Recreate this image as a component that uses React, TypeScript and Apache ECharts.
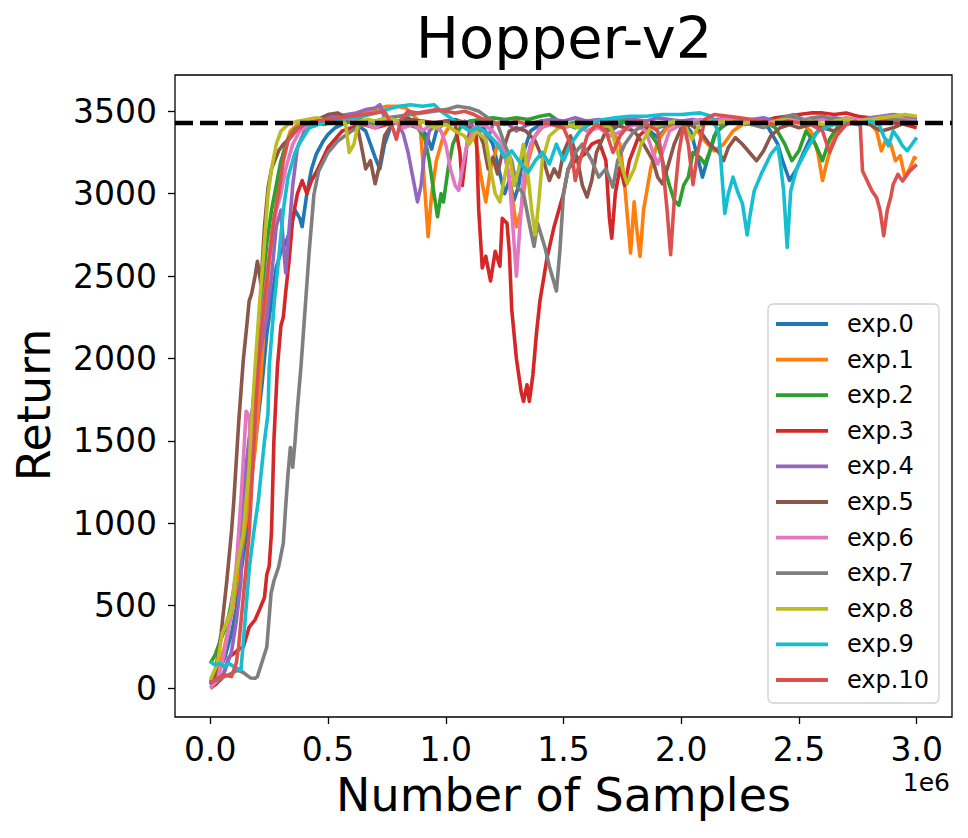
import React, { useEffect, useRef } from "react";
import * as echarts from "echarts";

const seriesNames = ["exp.0", "exp.1", "exp.2", "exp.3", "exp.4", "exp.5", "exp.6", "exp.7", "exp.8", "exp.9", "exp.10"];
const colors = ["#1f77b4", "#ff7f0e", "#2ca02c", "#d62728", "#9467bd", "#8c564b", "#e377c2", "#7f7f7f", "#bcbd22", "#17becf", "#dc5150"];
const xTicks = [0, 0.5, 1.0, 1.5, 2.0, 2.5, 3.0];
const yTicks = [0, 500, 1000, 1500, 2000, 2500, 3000, 3500];
const referenceReturn = 3432;

// x in units of 1e6 samples, y = return
const exp0 = [[0,20],[0.03,80],[0.06,180],[0.09,330],[0.11,480],[0.13,700],[0.15,900],[0.18,1340],[0.2,1600],[0.22,1850],[0.24,2150],[0.26,2350],[0.28,2550],[0.3,2650],[0.32,2700],[0.34,2780],[0.36,2900],[0.38,2850],[0.39,2800],[0.41,3000],[0.43,3150],[0.45,3240],[0.48,3320],[0.5,3360],[0.53,3400],[0.56,3420],[0.6,3440],[0.63,3410],[0.66,3380],[0.68,3300],[0.7,3220],[0.72,3150],[0.74,3300],[0.77,3420],[0.8,3440],[0.84,3460],[0.88,3420],[0.92,3350],[0.94,3270],[0.96,3380],[1.0,3440],[1.04,3450],[1.08,3430],[1.12,3440],[1.16,3400],[1.2,3300],[1.23,3120],[1.25,3000],[1.27,3080],[1.29,2960],[1.31,3050],[1.33,3250],[1.36,3380],[1.4,3420],[1.45,3440],[1.5,3430],[1.55,3400],[1.6,3440],[1.65,3420],[1.7,3380],[1.75,3430],[1.8,3450],[1.85,3400],[1.9,3340],[1.95,3420],[2.0,3440],[2.04,3380],[2.07,3220],[2.09,3100],[2.11,3200],[2.14,3350],[2.18,3420],[2.22,3440],[2.27,3420],[2.32,3440],[2.37,3400],[2.41,3300],[2.43,3200],[2.46,3080],[2.49,3150],[2.52,3250],[2.55,3340],[2.6,3400],[2.65,3430],[2.7,3440],[2.75,3420],[2.8,3440],[2.85,3450],[2.9,3440],[2.95,3460],[3.0,3450]];
const exp1 = [[0,40],[0.03,100],[0.06,250],[0.09,450],[0.12,700],[0.14,900],[0.16,1100],[0.19,1450],[0.21,1800],[0.23,2200],[0.25,2600],[0.27,2800],[0.29,3050],[0.31,3250],[0.34,3380],[0.37,3420],[0.4,3440],[0.44,3420],[0.48,3450],[0.52,3440],[0.56,3430],[0.6,3460],[0.64,3480],[0.68,3500],[0.72,3520],[0.75,3530],[0.79,3530],[0.83,3520],[0.86,3480],[0.89,3430],[0.905,3150],[0.925,2740],[0.94,3000],[0.96,3200],[0.99,3350],[1.02,3420],[1.06,3440],[1.1,3400],[1.13,3300],[1.15,3100],[1.17,2950],[1.19,3150],[1.22,3300],[1.25,3250],[1.28,3000],[1.3,2800],[1.32,2900],[1.35,3200],[1.38,3350],[1.42,3420],[1.46,3440],[1.5,3400],[1.55,3430],[1.6,3380],[1.65,3420],[1.7,3400],[1.74,3300],[1.76,3050],[1.785,2640],[1.8,2950],[1.81,2800],[1.825,2620],[1.84,2900],[1.87,3150],[1.9,3320],[1.94,3400],[1.98,3430],[2.02,3440],[2.06,3400],[2.1,3320],[2.14,3260],[2.18,3300],[2.22,3380],[2.26,3420],[2.3,3440],[2.35,3420],[2.4,3440],[2.45,3430],[2.5,3440],[2.55,3380],[2.58,3250],[2.6,3080],[2.62,3200],[2.65,3350],[2.7,3420],[2.75,3440],[2.8,3430],[2.83,3380],[2.85,3260],[2.87,3330],[2.89,3300],[2.91,3200],[2.93,3230],[2.95,3100],[2.97,3150],[2.99,3220],[3.0,3210]];
const exp2 = [[0,150],[0.02,200],[0.04,280],[0.06,350],[0.08,450],[0.1,600],[0.12,800],[0.14,1100],[0.16,1400],[0.18,1700],[0.2,2050],[0.22,2400],[0.24,2700],[0.26,2900],[0.28,3050],[0.3,3200],[0.33,3330],[0.36,3390],[0.4,3420],[0.44,3440],[0.48,3420],[0.52,3440],[0.56,3460],[0.6,3430],[0.64,3450],[0.68,3420],[0.72,3440],[0.76,3460],[0.8,3440],[0.84,3420],[0.88,3400],[0.91,3340],[0.93,3200],[0.95,3000],[0.965,2860],[0.98,3000],[0.99,2950],[1.01,3150],[1.03,3300],[1.06,3400],[1.1,3440],[1.15,3450],[1.2,3460],[1.25,3450],[1.3,3460],[1.35,3450],[1.4,3470],[1.44,3480],[1.48,3440],[1.52,3420],[1.56,3440],[1.6,3430],[1.65,3440],[1.7,3420],[1.75,3440],[1.8,3430],[1.85,3400],[1.9,3300],[1.93,3150],[1.95,3050],[1.97,2960],[1.99,2930],[2.01,3050],[2.03,3100],[2.05,3250],[2.08,3220],[2.1,3180],[2.12,3250],[2.15,3380],[2.2,3430],[2.25,3440],[2.3,3420],[2.35,3440],[2.4,3400],[2.44,3300],[2.47,3200],[2.5,3260],[2.53,3380],[2.57,3300],[2.6,3200],[2.63,3330],[2.67,3420],[2.72,3440],[2.78,3450],[2.84,3440],[2.9,3460],[2.95,3470],[3.0,3450]];
const exp3 = [[0,0],[0.02,20],[0.05,60],[0.08,190],[0.1,210],[0.12,235],[0.14,250],[0.165,370],[0.19,415],[0.21,480],[0.23,550],[0.24,690],[0.25,740],[0.26,950],[0.27,1500],[0.285,1950],[0.3,2200],[0.31,2250],[0.32,2400],[0.335,2600],[0.35,2850],[0.37,3000],[0.39,3080],[0.41,3000],[0.43,3080],[0.45,3130],[0.48,3220],[0.5,3280],[0.53,3330],[0.56,3380],[0.6,3400],[0.65,3420],[0.7,3400],[0.75,3420],[0.8,3440],[0.85,3430],[0.9,3440],[0.95,3430],[1.0,3440],[1.04,3420],[1.06,3250],[1.07,3050],[1.09,3300],[1.11,3420],[1.13,3350],[1.14,2900],[1.155,2550],[1.17,2620],[1.19,2470],[1.21,2650],[1.23,2560],[1.24,2850],[1.26,2820],[1.27,2650],[1.28,2300],[1.3,2000],[1.32,1800],[1.33,1740],[1.345,1840],[1.355,1740],[1.37,1900],[1.385,2150],[1.4,2350],[1.43,2610],[1.46,2800],[1.5,3000],[1.52,3150],[1.55,3200],[1.59,3240],[1.62,3300],[1.65,3320],[1.68,3200],[1.695,2850],[1.705,2730],[1.72,3000],[1.74,3160],[1.76,3050],[1.78,3200],[1.82,3350],[1.86,3400],[1.9,3420],[1.95,3440],[2.0,3430],[2.05,3440],[2.1,3450],[2.15,3440],[2.2,3450],[2.25,3440],[2.3,3430],[2.35,3440],[2.4,3460],[2.45,3470],[2.5,3480],[2.55,3490],[2.6,3490],[2.65,3480],[2.7,3490],[2.75,3470],[2.8,3460],[2.85,3440],[2.9,3430],[2.95,3420],[3.0,3400]];
const exp4 = [[0,20],[0.03,40],[0.06,100],[0.09,220],[0.11,400],[0.13,650],[0.14,1200],[0.16,1450],[0.18,1700],[0.2,1950],[0.22,2100],[0.24,2250],[0.26,2500],[0.28,2800],[0.3,2900],[0.31,2700],[0.32,2520],[0.33,2700],[0.35,3050],[0.37,3280],[0.4,3380],[0.43,3420],[0.46,3440],[0.5,3460],[0.54,3470],[0.58,3480],[0.62,3490],[0.66,3510],[0.7,3520],[0.72,3540],[0.74,3460],[0.77,3440],[0.8,3420],[0.82,3360],[0.84,3250],[0.86,3100],[0.88,2950],[0.895,3050],[0.91,3250],[0.93,3380],[0.96,3420],[1.0,3440],[1.04,3420],[1.08,3440],[1.12,3400],[1.16,3380],[1.18,3340],[1.2,3420],[1.25,3440],[1.3,3380],[1.35,3420],[1.4,3440],[1.45,3450],[1.5,3440],[1.55,3460],[1.6,3440],[1.65,3450],[1.7,3440],[1.75,3460],[1.8,3450],[1.85,3440],[1.9,3460],[1.95,3450],[2.0,3440],[2.05,3450],[2.1,3430],[2.15,3450],[2.2,3460],[2.25,3440],[2.3,3450],[2.35,3460],[2.4,3440],[2.45,3450],[2.5,3460],[2.55,3440],[2.6,3450],[2.65,3460],[2.7,3450],[2.75,3440],[2.8,3460],[2.85,3470],[2.9,3480],[2.95,3470],[3.0,3460]];
const exp5 = [[0,30],[0.02,80],[0.046,335],[0.07,650],[0.09,950],[0.1,1140],[0.12,1600],[0.14,1990],[0.155,2200],[0.165,2350],[0.175,2390],[0.19,2500],[0.2,2590],[0.215,2450],[0.23,2800],[0.245,3035],[0.26,3150],[0.29,3260],[0.31,3300],[0.34,3340],[0.37,3390],[0.4,3420],[0.43,3440],[0.47,3460],[0.5,3480],[0.54,3490],[0.58,3460],[0.62,3440],[0.64,3300],[0.66,3150],[0.68,3200],[0.7,3060],[0.72,3180],[0.74,3350],[0.77,3420],[0.8,3440],[0.85,3450],[0.9,3440],[0.95,3420],[1.0,3440],[1.05,3430],[1.1,3400],[1.14,3380],[1.16,3300],[1.18,3150],[1.2,3220],[1.22,3120],[1.24,3250],[1.27,3380],[1.3,3400],[1.34,3380],[1.38,3320],[1.42,3180],[1.44,3080],[1.46,3150],[1.48,3100],[1.5,3250],[1.53,3350],[1.56,3200],[1.58,3050],[1.6,2980],[1.62,3080],[1.64,3250],[1.68,3380],[1.72,3420],[1.76,3400],[1.8,3380],[1.84,3300],[1.88,3200],[1.9,3100],[1.92,3060],[1.94,3150],[1.97,3300],[2.0,3400],[2.04,3420],[2.08,3380],[2.12,3300],[2.16,3250],[2.18,3200],[2.2,3280],[2.23,3340],[2.26,3300],[2.29,3250],[2.32,3200],[2.35,3260],[2.38,3350],[2.42,3400],[2.46,3420],[2.5,3400],[2.55,3420],[2.6,3400],[2.65,3380],[2.7,3420],[2.75,3440],[2.8,3420],[2.85,3380],[2.9,3400],[2.95,3430],[3.0,3440]];
const exp6 = [[0,0],[0.03,50],[0.05,150],[0.075,330],[0.09,500],[0.11,735],[0.13,1140],[0.145,1500],[0.152,1680],[0.165,1650],[0.175,1300],[0.19,1600],[0.2,1900],[0.22,2250],[0.24,2500],[0.26,2750],[0.28,2900],[0.3,3000],[0.32,3150],[0.35,3300],[0.38,3380],[0.42,3420],[0.46,3440],[0.5,3450],[0.54,3430],[0.58,3460],[0.62,3440],[0.66,3420],[0.7,3400],[0.74,3430],[0.78,3440],[0.82,3400],[0.86,3420],[0.9,3380],[0.94,3420],[0.98,3380],[1.0,3300],[1.02,3150],[1.04,3050],[1.055,3020],[1.07,3150],[1.09,3300],[1.12,3400],[1.16,3420],[1.2,3380],[1.24,3300],[1.27,3100],[1.285,2800],[1.3,2500],[1.315,2800],[1.33,3100],[1.36,3300],[1.4,3400],[1.45,3420],[1.5,3400],[1.55,3420],[1.6,3380],[1.65,3400],[1.7,3350],[1.75,3380],[1.8,3420],[1.85,3380],[1.88,3250],[1.9,3180],[1.92,3250],[1.95,3380],[2.0,3420],[2.05,3440],[2.1,3450],[2.15,3440],[2.2,3460],[2.25,3450],[2.3,3440],[2.35,3420],[2.4,3440],[2.45,3450],[2.5,3440],[2.55,3460],[2.6,3450],[2.65,3440],[2.7,3460],[2.75,3450],[2.8,3440],[2.85,3460],[2.9,3470],[2.95,3450],[3.0,3440]];
const exp7 = [[0,40],[0.03,50],[0.06,70],[0.09,90],[0.117,110],[0.14,95],[0.17,62],[0.19,60],[0.2,70],[0.22,160],[0.24,250],[0.258,575],[0.27,650],[0.29,735],[0.31,880],[0.32,1100],[0.33,1300],[0.34,1460],[0.35,1340],[0.36,1500],[0.37,1700],[0.385,1950],[0.405,2350],[0.42,2650],[0.44,2995],[0.46,3136],[0.5,3250],[0.54,3318],[0.6,3380],[0.65,3420],[0.7,3440],[0.75,3460],[0.8,3470],[0.85,3480],[0.9,3490],[0.95,3500],[1.0,3510],[1.05,3530],[1.1,3520],[1.14,3500],[1.18,3460],[1.22,3420],[1.25,3300],[1.28,3200],[1.3,3050],[1.33,3000],[1.36,2780],[1.375,2680],[1.39,2820],[1.42,2680],[1.44,2560],[1.47,2410],[1.485,2660],[1.5,3000],[1.52,3150],[1.55,3250],[1.58,3300],[1.62,3200],[1.65,3100],[1.68,3150],[1.71,3040],[1.73,3200],[1.76,3300],[1.8,3380],[1.85,3420],[1.9,3400],[1.95,3420],[2.0,3440],[2.05,3420],[2.1,3440],[2.15,3420],[2.2,3430],[2.25,3440],[2.3,3420],[2.35,3400],[2.4,3440],[2.45,3470],[2.48,3480],[2.52,3440],[2.56,3460],[2.6,3470],[2.65,3450],[2.7,3440],[2.75,3430],[2.8,3440],[2.85,3460],[2.9,3450],[2.95,3440],[3.0,3430]];
const exp8 = [[0,50],[0.03,150],[0.05,330],[0.07,400],[0.09,475],[0.11,700],[0.14,940],[0.165,1340],[0.19,1946],[0.21,2350],[0.23,2700],[0.245,2990],[0.26,3150],[0.28,3300],[0.3,3380],[0.33,3420],[0.37,3440],[0.41,3450],[0.45,3460],[0.5,3440],[0.55,3450],[0.575,3420],[0.59,3250],[0.61,3300],[0.63,3440],[0.67,3450],[0.7,3440],[0.75,3460],[0.8,3440],[0.85,3420],[0.9,3440],[0.95,3400],[1.0,3420],[1.04,3380],[1.08,3350],[1.1,3300],[1.13,3380],[1.17,3330],[1.19,3150],[1.21,3000],[1.23,2950],[1.25,3100],[1.27,3250],[1.29,3050],[1.31,3150],[1.33,3300],[1.35,3100],[1.365,2900],[1.38,2750],[1.395,2950],[1.41,3200],[1.44,3350],[1.48,3400],[1.52,3420],[1.56,3400],[1.6,3420],[1.65,3440],[1.7,3400],[1.74,3200],[1.77,3060],[1.8,3150],[1.83,3300],[1.87,3400],[1.92,3420],[1.97,3440],[2.02,3400],[2.045,3330],[2.07,3400],[2.1,3440],[2.15,3430],[2.2,3440],[2.25,3420],[2.3,3440],[2.35,3420],[2.4,3440],[2.45,3450],[2.5,3430],[2.55,3440],[2.6,3420],[2.65,3440],[2.7,3450],[2.75,3440],[2.8,3450],[2.85,3460],[2.9,3470],[2.95,3480],[3.0,3470]];
const exp9 = [[0,160],[0.02,140],[0.04,150],[0.06,130],[0.08,150],[0.1,130],[0.13,110],[0.143,330],[0.166,735],[0.185,950],[0.204,1140],[0.23,1500],[0.245,1666],[0.25,1946],[0.272,2350],[0.29,2600],[0.31,2900],[0.33,3100],[0.36,3250],[0.385,3320],[0.42,3400],[0.46,3420],[0.5,3440],[0.55,3450],[0.6,3460],[0.65,3470],[0.7,3490],[0.75,3510],[0.8,3530],[0.85,3540],[0.9,3530],[0.95,3540],[0.98,3500],[1.02,3460],[1.06,3420],[1.1,3380],[1.14,3400],[1.18,3360],[1.22,3300],[1.25,3220],[1.28,3260],[1.32,3180],[1.35,3130],[1.38,3200],[1.41,3250],[1.44,3180],[1.47,3300],[1.5,3200],[1.53,3300],[1.57,3380],[1.62,3430],[1.67,3450],[1.72,3460],[1.78,3470],[1.85,3470],[1.92,3480],[2.0,3480],[2.08,3490],[2.13,3470],[2.16,3360],[2.185,2880],[2.2,3000],[2.22,3100],[2.24,3010],[2.26,2940],[2.28,2750],[2.29,2850],[2.31,3017],[2.34,3120],[2.38,3238],[2.41,3290],[2.42,3200],[2.435,3017],[2.45,2674],[2.465,3017],[2.49,3150],[2.53,3260],[2.58,3380],[2.65,3420],[2.7,3430],[2.75,3420],[2.8,3440],[2.84,3420],[2.86,3350],[2.88,3290],[2.9,3380],[2.92,3340],[2.94,3290],[2.96,3260],[2.98,3300],[3.0,3340]];
const exp10 = [[0,30],[0.03,60],[0.06,80],[0.09,70],[0.11,150],[0.12,250],[0.13,400],[0.15,700],[0.165,940],[0.18,1340],[0.195,1750],[0.215,2150],[0.23,2350],[0.25,2600],[0.27,2850],[0.29,3000],[0.31,3200],[0.33,3320],[0.36,3380],[0.4,3420],[0.45,3440],[0.5,3450],[0.55,3460],[0.6,3470],[0.65,3480],[0.7,3490],[0.74,3500],[0.77,3420],[0.79,3330],[0.81,3450],[0.84,3500],[0.88,3490],[0.92,3500],[0.96,3510],[1.0,3500],[1.04,3490],[1.08,3500],[1.12,3480],[1.16,3450],[1.2,3430],[1.25,3420],[1.3,3440],[1.35,3420],[1.4,3430],[1.45,3420],[1.5,3400],[1.53,3300],[1.55,3080],[1.57,3200],[1.6,3350],[1.64,3420],[1.68,3380],[1.71,3250],[1.74,3350],[1.78,3420],[1.82,3440],[1.86,3420],[1.9,3380],[1.92,3200],[1.94,2900],[1.955,2630],[1.97,2950],[1.99,3250],[2.01,3420],[2.03,3300],[2.05,3055],[2.07,3250],[2.1,3450],[2.14,3480],[2.2,3470],[2.25,3460],[2.3,3450],[2.35,3430],[2.4,3420],[2.45,3440],[2.5,3430],[2.55,3420],[2.6,3380],[2.63,3250],[2.66,3350],[2.7,3420],[2.74,3440],[2.76,3420],[2.77,3137],[2.79,3077],[2.81,3017],[2.83,2975],[2.845,2896],[2.86,2745],[2.875,2900],[2.89,2980],[2.9,3055],[2.92,3117],[2.94,3077],[2.97,3137],[3.0,3177]];

const allData = [exp0, exp1, exp2, exp3, exp4, exp5, exp6, exp7, exp8, exp9, exp10];

const FONT = '"DejaVu Sans", sans-serif';

export default function App() {
  const ref = useRef<HTMLDivElement>(null);
  useEffect(() => {
    if (!ref.current) return;
    const chart = echarts.init(ref.current, null, { renderer: "svg" });
    const series: any[] = allData.map((d, i) => ({
      name: seriesNames[i],
      type: "line",
      data: d,
      symbol: "none",
      showSymbol: false,
      color: colors[i],
      lineStyle: { width: 3.6, color: colors[i], join: "round" },
      z: 2 + i,
      markLine: i === allData.length - 1 ? {
        silent: true,
        symbol: "none",
        label: { show: false },
        lineStyle: { type: [18, 7], color: "#000", width: 4.3 },
        data: [{ yAxis: referenceReturn }],
        z: 20,
      } : undefined,
    }));
    chart.setOption({
      animation: false,
      backgroundColor: "#fff",
      grid: { left: 175, top: 75, width: 777, height: 642, show: true, borderColor: "#000", borderWidth: 1.3, backgroundColor: "transparent" },
      xAxis: {
        type: "value",
        min: -0.15,
        max: 3.15,
        axisLine: { show: false, onZero: false },
        splitLine: { show: false },
        axisTick: { show: true, length: 7, lineStyle: { color: "#000", width: 1.3 }, customValues: xTicks },
        axisLabel: { customValues: xTicks, formatter: (v: number) => v.toFixed(1), color: "#000", fontSize: 33, fontFamily: FONT, margin: 16 },
      },
      yAxis: {
        type: "value",
        min: -175,
        max: 3720,
        axisLine: { show: false, onZero: false },
        splitLine: { show: false },
        axisTick: { show: true, length: 7, lineStyle: { color: "#000", width: 1.3 }, customValues: yTicks },
        axisLabel: { customValues: yTicks, formatter: (v: number) => String(v), color: "#000", fontSize: 33, fontFamily: FONT, margin: 18 },
      },
      legend: {
        orient: "vertical",
        left: 768,
        top: 304,
        padding: [8, 10, 11, 8],
        icon: "rect",
        itemWidth: 52,
        itemHeight: 3.8,
        itemGap: 11.6,
        backgroundColor: "rgba(255,255,255,0.8)",
        borderColor: "#d0d0d0",
        borderWidth: 1.3,
        borderRadius: 5,
        textStyle: { fontSize: 24, fontFamily: FONT, color: "#000", padding: [0, 0, 0, 14] },
        data: seriesNames,
      },
      graphic: [
        { type: "text", x: 564, y: 38, style: { text: "Hopper-v2", font: `57.5px ${FONT}`, fill: "#000", textAlign: "center", textVerticalAlign: "middle" } },
        { type: "text", x: 563.5, y: 795, style: { text: "Number of Samples", font: `46px ${FONT}`, fill: "#000", textAlign: "center", textVerticalAlign: "middle" } },
        { type: "text", x: 34, y: 405, rotation: Math.PI / 2, style: { text: "Return", font: `46px ${FONT}`, fill: "#000", textAlign: "center", textVerticalAlign: "middle" } },
        { type: "text", x: 950, y: 782, style: { text: "1e6", font: `25px ${FONT}`, fill: "#000", textAlign: "right", textVerticalAlign: "middle" } },
      ],
      series,
    });
    return () => chart.dispose();
  }, []);
  return <div ref={ref} style={{ position: "fixed", left: 0, top: 0, width: 968, height: 838, background: "#fff" }} />;
}
